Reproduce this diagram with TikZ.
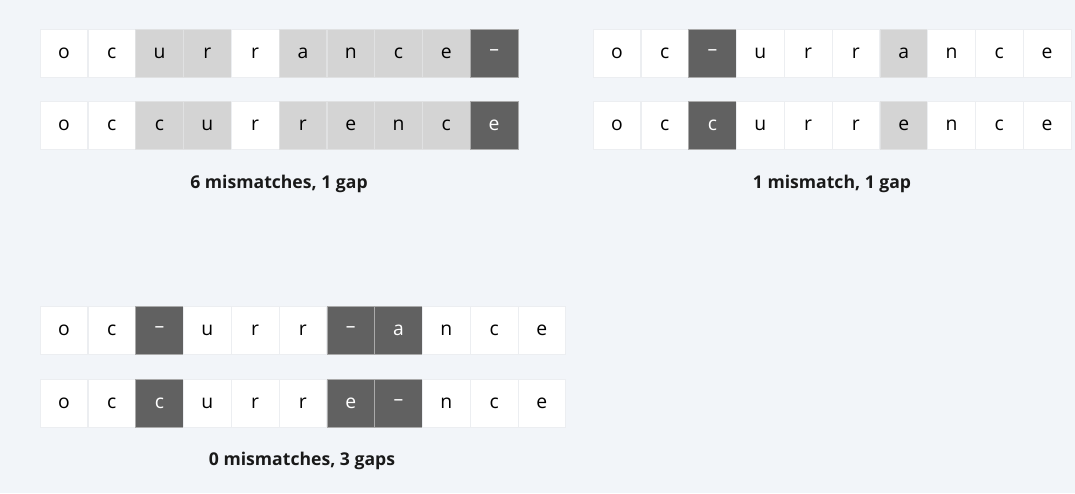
\documentclass[tikz,border=0pt]{standalone}
\usepackage{fontspec}
\setmainfont{Open Sans}
\definecolor{bgcol}{RGB}{242,245,249}
\definecolor{edgecol}{RGB}{236,238,241}
\definecolor{lightcol}{RGB}{212,212,212}
\definecolor{darkcol}{RGB}{97,97,97}
\definecolor{darkedge}{RGB}{170,170,170}
\tikzset{every picture/.style={line width=0.75pt}}
\tikzset{
  cellw/.style={draw=edgecol, fill=white, text=black, line width=0.5pt, minimum width=35.6pt, minimum height=36pt, inner sep=0pt, font=\fontsize{14.5}{16}\selectfont},
  cellg/.style={cellw, fill=lightcol, draw=edgecol!50!lightcol},
  celld/.style={cellw, fill=darkcol, draw=darkedge, text=white},
  caption/.style={font=\bfseries\fontsize{13.2}{15}\selectfont, text=black!90}
}

\begin{document}
\begin{tikzpicture}[x=0.75pt,y=0.75pt,yscale=-1,xscale=1]
\fill[bgcol] (0,0) rectangle (1075,493);
\useasboundingbox (0,0) rectangle (1075,493);

% Alignment 1 (top left)
\foreach \ch/\ty [count=\i] in {o/w,c/w,u/g,r/g,r/w,a/g,n/g,c/g,e/g,–/d}
  \node[cell\ty] (a1-\i) at ({40+47.8*(\i-1)+23.9},53) {\ch};
\foreach \ch/\ty [count=\i] in {o/w,c/w,c/g,u/g,r/w,r/g,e/g,n/g,c/g,e/d}
  \node[cell\ty] (b1-\i) at ({40+47.8*(\i-1)+23.9},125) {\ch};
\node[caption] (cap1) at (279,184) {6 mismatches, 1 gap};

% Alignment 2 (top right)
\foreach \ch/\ty [count=\i] in {o/w,c/w,–/d,u/w,r/w,r/w,a/g,n/w,c/w,e/w}
  \node[cell\ty] (a2-\i) at ({593+47.8*(\i-1)+23.9},53) {\ch};
\foreach \ch/\ty [count=\i] in {o/w,c/w,c/d,u/w,r/w,r/w,e/g,n/w,c/w,e/w}
  \node[cell\ty] (b2-\i) at ({593+47.8*(\i-1)+23.9},125) {\ch};
\node[caption] (cap2) at (832,184) {1 mismatch, 1 gap};

% Alignment 3 (bottom)
\foreach \ch/\ty [count=\i] in {o/w,c/w,–/d,u/w,r/w,r/w,–/d,a/d,n/w,c/w,e/w}
  \node[cell\ty] (a3-\i) at ({40+47.8*(\i-1)+23.9},330) {\ch};
\foreach \ch/\ty [count=\i] in {o/w,c/w,c/d,u/w,r/w,r/w,e/d,–/d,n/w,c/w,e/w}
  \node[cell\ty] (b3-\i) at ({40+47.8*(\i-1)+23.9},403) {\ch};
\node[caption] (cap3) at (302,461) {0 mismatches, 3 gaps};

\end{tikzpicture}
\end{document}
